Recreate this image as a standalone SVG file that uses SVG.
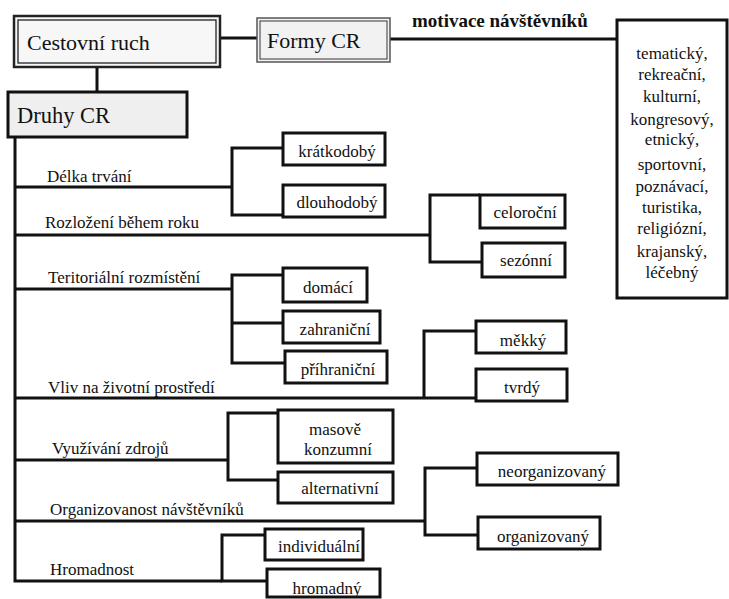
<svg xmlns="http://www.w3.org/2000/svg" width="729" height="599" viewBox="0 0 729 599">
<style>
  .box { fill: #ffffff; stroke: #111; stroke-width: 3; }
  .grey { fill: #efefef; }
  .conn { fill: none; stroke: #111; stroke-width: 3; stroke-linejoin: miter; }
  .t { font-size: 17px; }
  .c { font-size: 17px; text-anchor: middle; }
  .big { font-size: 22px; }
  .bold { font-size: 19px; font-weight: bold; }
</style>
<rect width="729" height="599" fill="#ffffff"/>

<g id="connectors">
  <path class="conn" d="M97,68 V92"/>
  <path class="conn" d="M221,38 H257"/>
  <path class="conn" d="M390,39 H617"/>
  <path class="conn" d="M15,137 V581 H222"/>
  <path class="conn" d="M15,187 H232"/>
  <path class="conn" d="M283,148 H232 V215 H283"/>
  <path class="conn" d="M15,235 H430"/>
  <path class="conn" d="M480,195 H430 V262 H482"/>
  <path class="conn" d="M15,289 H232"/>
  <path class="conn" d="M283,275 H232 V363 H285 M232,323 H283"/>
  <path class="conn" d="M15,398 H476"/>
  <path class="conn" d="M476,331 H424 V398"/>
  <path class="conn" d="M15,460 H228"/>
  <path class="conn" d="M278,413 H228 V480 H278"/>
  <path class="conn" d="M15,521 H425"/>
  <path class="conn" d="M477,468 H425 V535 H478"/>
  <path class="conn" d="M265,535 H222 V581 H267"/>
</g>

<g font-family="'Liberation Serif', 'DejaVu Serif', serif" fill="#111">
<g id="cestovni-ruch">
  <rect x="14" y="16" width="206" height="51" fill="#f7f7f7" stroke="#222" stroke-width="2.5"/>
  <rect x="18" y="20" width="198" height="43" fill="none" stroke="#222" stroke-width="1.3"/>
  <text class="big" x="27" y="50">Cestovní ruch</text>
</g>

<g id="formy-cr">
  <rect x="257" y="18" width="133" height="44" fill="#f2f2f2" stroke="#555" stroke-width="1.5"/>
  <rect x="260" y="21" width="127" height="38" fill="none" stroke="#555" stroke-width="1.2"/>
  <text x="267" y="48" font-size="22">Formy CR</text>
</g>

<g id="motivace-label">
  <text class="bold" x="412" y="27">motivace návštěvníků</text>
</g>

<g id="motivace-list">
  <rect class="box" x="617" y="20" width="110" height="278"/>
  <text class="c" x="672" y="59">tematický,</text>
  <text class="c" x="672" y="80">rekreační,</text>
  <text class="c" x="672" y="102">kulturní,</text>
  <text class="c" x="672" y="125">kongresový,</text>
  <text class="c" x="672" y="145">etnický,</text>
  <text class="c" x="672" y="170">sportovní,</text>
  <text class="c" x="672" y="192">poznávací,</text>
  <text class="c" x="672" y="213">turistika,</text>
  <text class="c" x="672" y="234">religiózní,</text>
  <text class="c" x="672" y="257">krajanský,</text>
  <text class="c" x="672" y="278">léčebný</text>
</g>

<g id="druhy-cr">
  <rect class="box grey" x="8" y="92" width="179" height="45"/>
  <text x="17" y="123" font-size="22.5">Druhy CR</text>
</g>

<g id="labels">
  <text class="t" x="47" y="182">Délka trvání</text>
  <text class="t" x="45" y="228">Rozložení během roku</text>
  <text class="t" x="48" y="283">Teritoriální rozmístění</text>
  <text class="t" x="48" y="393">Vliv na životní prostředí</text>
  <text class="t" x="52" y="454">Využívání zdrojů</text>
  <text class="t" x="50" y="515">Organizovanost návštěvníků</text>
  <text class="t" x="50" y="575">Hromadnost</text>
</g>

<g id="kratkodoby">
  <rect class="box" x="283" y="133" width="102" height="32"/>
  <text class="c" x="337" y="157">krátkodobý</text>
</g>
<g id="dlouhodoby">
  <rect class="box" x="283" y="185" width="102" height="32"/>
  <text class="c" x="337" y="208">dlouhodobý</text>
</g>
<g id="celorocni">
  <rect class="box" x="480" y="195" width="85" height="33"/>
  <text class="c" x="525" y="218">celoroční</text>
</g>
<g id="sezonni">
  <rect class="box" x="482" y="243" width="83" height="34"/>
  <text class="c" x="526" y="266">sezónní</text>
</g>
<g id="domaci">
  <rect class="box" x="283" y="268" width="84" height="34"/>
  <text class="c" x="328" y="293">domácí</text>
</g>
<g id="zahranicni">
  <rect class="box" x="283" y="311" width="97" height="32"/>
  <text class="c" x="335" y="335">zahraniční</text>
</g>
<g id="prihranicni">
  <rect class="box" x="285" y="351" width="102" height="32"/>
  <text class="c" x="338" y="375">příhraniční</text>
</g>
<g id="mekky">
  <rect class="box" x="476" y="321" width="90" height="32"/>
  <text class="c" x="523" y="346">měkký</text>
</g>
<g id="tvrdy">
  <rect class="box" x="476" y="369" width="91" height="32"/>
  <text class="c" x="522" y="393">tvrdý</text>
</g>
<g id="masove-konzumni">
  <rect class="box" x="278" y="410" width="115" height="53"/>
  <text class="c" x="335" y="435">masově</text>
  <text class="c" x="338" y="455">konzumní</text>
</g>
<g id="alternativni">
  <rect class="box" x="278" y="472" width="115" height="31"/>
  <text class="c" x="340" y="494">alternativní</text>
</g>
<g id="neorganizovany">
  <rect class="box" x="477" y="453" width="141" height="32"/>
  <text class="c" x="552" y="477">neorganizovaný</text>
</g>
<g id="organizovany">
  <rect class="box" x="478" y="517" width="122" height="32"/>
  <text class="c" x="543" y="542">organizovaný</text>
</g>
<g id="individualni">
  <rect class="box" x="265" y="529" width="98" height="31"/>
  <text class="c" x="319" y="552">individuální</text>
</g>
<g id="hromadny">
  <rect class="box" x="267" y="569" width="113" height="28"/>
  <text class="c" x="327" y="594">hromadný</text>
</g>
</g>
</svg>
